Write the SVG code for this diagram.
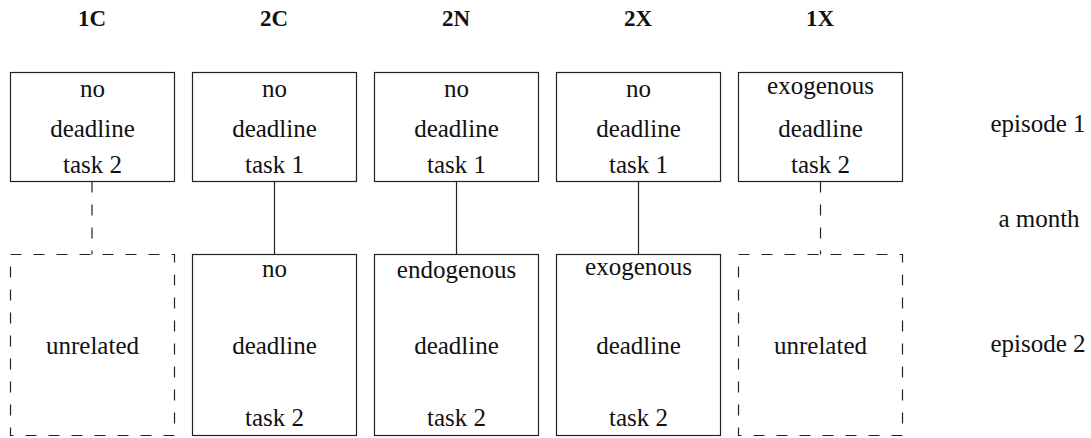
<svg xmlns="http://www.w3.org/2000/svg" width="1091" height="438" viewBox="0 0 1091 438" font-family="Liberation Serif">
<style>
text{font-size:25px;fill:#111;text-anchor:middle}
.h{font-weight:bold;font-size:23px}
.box{fill:#fff;stroke:#222;stroke-width:1.2}
.dbox{fill:none;stroke:#222;stroke-width:1.2;stroke-dasharray:11 12}
.c{stroke:#222;stroke-width:1.2;fill:none}
.dc{stroke:#222;stroke-width:1.2;fill:none;stroke-dasharray:11 12}
</style>
<rect width="1091" height="438" fill="#fff"/>
<g id="headers">
<text class="h" x="92" y="26">1C</text>
<text class="h" x="274" y="26">2C</text>
<text class="h" x="456" y="26">2N</text>
<text class="h" x="638" y="26">2X</text>
<text class="h" x="820" y="26">1X</text>
</g>
<g id="row-labels">
<text x="1038" y="132">episode 1</text>
<text x="1039" y="227">a month</text>
<text x="1038" y="352">episode 2</text>
</g>
<g id="connectors">
<line class="dc" x1="92" y1="181.5" x2="92" y2="254.5"/>
<line class="c" x1="274.5" y1="181.5" x2="274.5" y2="254.5"/>
<line class="c" x1="456.5" y1="181.5" x2="456.5" y2="254.5"/>
<line class="c" x1="638.5" y1="181.5" x2="638.5" y2="254.5"/>
<line class="dc" x1="820.5" y1="181.5" x2="820.5" y2="254.5"/>
</g>
<g id="n1C-ep1">
<rect class="box" x="10.5" y="72.5" width="164" height="109"/>
<text x="92.5" y="97">no</text>
<text x="92.5" y="137">deadline</text>
<text x="92.5" y="173">task 2</text>
</g>
<g id="n2C-ep1">
<rect class="box" x="192.5" y="72.5" width="164" height="109"/>
<text x="274.5" y="97">no</text>
<text x="274.5" y="137">deadline</text>
<text x="274.5" y="173">task 1</text>
</g>
<g id="n2N-ep1">
<rect class="box" x="374.5" y="72.5" width="164" height="109"/>
<text x="456.5" y="97">no</text>
<text x="456.5" y="137">deadline</text>
<text x="456.5" y="173">task 1</text>
</g>
<g id="n2X-ep1">
<rect class="box" x="556.5" y="72.5" width="164" height="109"/>
<text x="638.5" y="97">no</text>
<text x="638.5" y="137">deadline</text>
<text x="638.5" y="173">task 1</text>
</g>
<g id="n1X-ep1">
<rect class="box" x="738.5" y="72.5" width="164" height="109"/>
<text x="820.5" y="94">exogenous</text>
<text x="820.5" y="137">deadline</text>
<text x="820.5" y="173">task 2</text>
</g>
<g id="n1C-ep2">
<rect class="dbox" x="10.5" y="254.5" width="164" height="181"/>
<text x="92.5" y="354">unrelated</text>
</g>
<g id="n2C-ep2">
<rect class="box" x="192.5" y="254.5" width="164" height="181"/>
<text x="274.5" y="277">no</text>
<text x="274.5" y="354">deadline</text>
<text x="274.5" y="426">task 2</text>
</g>
<g id="n2N-ep2">
<rect class="box" x="374.5" y="254.5" width="164" height="181"/>
<text x="456.5" y="278">endogenous</text>
<text x="456.5" y="354">deadline</text>
<text x="456.5" y="426">task 2</text>
</g>
<g id="n2X-ep2">
<rect class="box" x="556.5" y="254.5" width="164" height="181"/>
<text x="638.5" y="275">exogenous</text>
<text x="638.5" y="354">deadline</text>
<text x="638.5" y="426">task 2</text>
</g>
<g id="n1X-ep2">
<rect class="dbox" x="738.5" y="254.5" width="164" height="181"/>
<text x="820.5" y="354">unrelated</text>
</g>
</svg>
